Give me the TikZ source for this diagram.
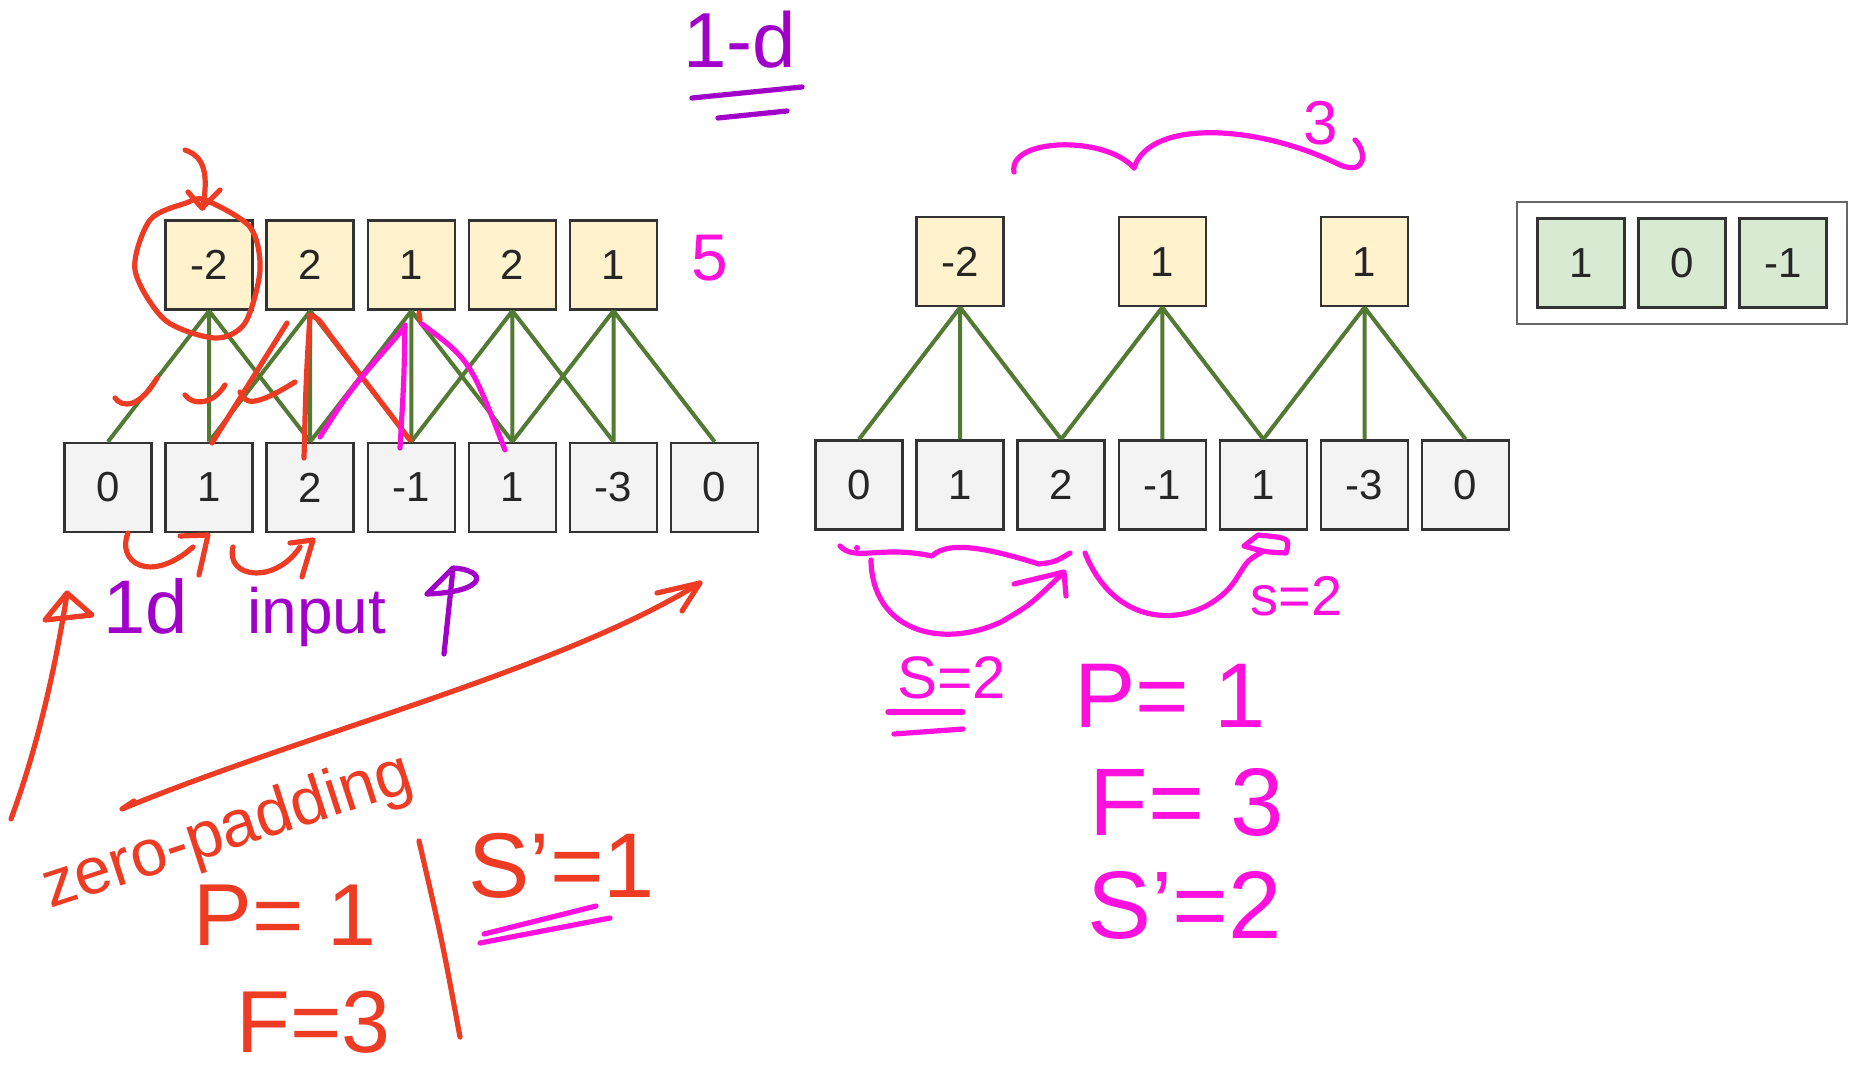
\documentclass[tikz,border=0pt]{standalone}
\usepackage{fontspec}
\setmainfont{Liberation Sans}
\usepackage{xcolor}
\usetikzlibrary{positioning,fit}

\definecolor{boxline}{HTML}{333333}
\definecolor{infill}{HTML}{F3F3F3}
\definecolor{outfill}{HTML}{FFF2CC}
\definecolor{kerfill}{HTML}{D9EAD3}
\definecolor{wire}{HTML}{527A33}
\definecolor{penred}{HTML}{EE3B24}
\definecolor{penpink}{HTML}{FF10DC}
\definecolor{penpurple}{HTML}{A000C8}

\begin{document}
\begin{tikzpicture}[x=0.5pt, y=-0.5pt,
  node distance=5.75pt,
  cell/.style={draw=boxline, line width=1.3pt, minimum width=43.5pt,
               minimum height=44.5pt, inner sep=0pt, text=black!85,
               font=\fontsize{21}{23}\selectfont},
  inbox/.style={cell, fill=infill},
  outbox/.style={cell, fill=outfill},
  kerbox/.style={cell, fill=kerfill},
  frame/.style={draw=black!60, line width=1.2pt, inner xsep=9.5pt, inner ysep=7.5pt},
  link/.style={draw=wire, line width=2pt},
  pen/.style={line width=2.6pt, line cap=round, line join=round},
  redpen/.style={pen, draw=penred},
  pinkpen/.style={pen, draw=penpink},
  purplepen/.style={pen, draw=penpurple},
  note/.style={inner sep=0pt, anchor=base west}
]
  \useasboundingbox (0,0) rectangle (1853,1070);

  % padded input, stride 1
  \node[inbox] (a0) at (108,487.5) {0};
  \node[inbox, right=of a0] (a1) {1};
  \node[inbox, right=of a1] (a2) {2};
  \node[inbox, right=of a2] (a3) {-1};
  \node[inbox, right=of a3] (a4) {1};
  \node[inbox, right=of a4] (a5) {-3};
  \node[inbox, right=of a5] (a6) {0};
  \node[outbox, above=65.4pt of a1] (b0) {-2};
  \node[outbox, right=of b0] (b1) {2};
  \node[outbox, right=of b1] (b2) {1};
  \node[outbox, right=of b2] (b3) {2};
  \node[outbox, right=of b3] (b4) {1};
  \draw[link] (b0.south) -- (a0.north) (b0.south) -- (a1.north) (b0.south) -- (a2.north);
  \draw[link] (b1.south) -- (a1.north) (b1.south) -- (a2.north) (b1.south) -- (a3.north);
  \draw[link] (b2.south) -- (a2.north) (b2.south) -- (a3.north) (b2.south) -- (a4.north);
  \draw[link] (b3.south) -- (a3.north) (b3.south) -- (a4.north) (b3.south) -- (a5.north);
  \draw[link] (b4.south) -- (a4.north) (b4.south) -- (a5.north) (b4.south) -- (a6.north);

  % padded input, stride 2
  \node[inbox] (c0) at (859,485) {0};
  \node[inbox, right=of c0] (c1) {1};
  \node[inbox, right=of c1] (c2) {2};
  \node[inbox, right=of c2] (c3) {-1};
  \node[inbox, right=of c3] (c4) {1};
  \node[inbox, right=of c4] (c5) {-3};
  \node[inbox, right=of c5] (c6) {0};
  \node[outbox, above=65.9pt of c1] (d0) {-2};
  \node[outbox, above=65.9pt of c3] (d1) {1};
  \node[outbox, above=65.9pt of c5] (d2) {1};
  \draw[link] (d0.south) -- (c0.north) (d0.south) -- (c1.north) (d0.south) -- (c2.north);
  \draw[link] (d1.south) -- (c2.north) (d1.south) -- (c3.north) (d1.south) -- (c4.north);
  \draw[link] (d2.south) -- (c4.north) (d2.south) -- (c5.north) (d2.south) -- (c6.north);

  % filter
  \node[kerbox] (k0) at (1581,263) {1};
  \node[kerbox, right=of k0] (k1) {0};
  \node[kerbox, right=of k1] (k2) {-1};
  \node[frame, fit=(k0)(k2)] (kernel) {};

  % pen notes, left
  \draw[redpen] plot[smooth cycle] coordinates {(205,200) (250,227) (260,270) (245,323)
    (215,338) (165,320) (135,270) (150,220) (186,203)};
  \draw[redpen] (185,150) .. controls (210,158) and (206,185) .. (203,208);
  \draw[redpen] (188,192) -- (202,208) -- (220,190);
  \draw[redpen] (115,398) .. controls (122,408) and (140,408) .. (157,378);
  \draw[redpen] (185,395) .. controls (192,405) and (212,406) .. (225,385);
  \draw[redpen] (240,392) .. controls (245,402) and (250,410) .. (295,382);
  \draw[redpen] (212,443) -- (287,323);
  \draw[redpen] (304,458) .. controls (306,380) .. (310,315) .. controls (318,318) .. (330,335) -- (410,440);
  \draw[redpen] (419,313) -- (420,320);
  \draw[pinkpen] (320,437) .. controls (350,390) .. (405,327);
  \draw[pinkpen] (400,448) .. controls (404,380) .. (405,325);
  \draw[pinkpen] (422,324) .. controls (470,360) .. (505,450);
  \node[note, text=penpink, font=\fontsize{33}{38}\selectfont] (nout) at (691,280) {5};

  \draw[redpen] (128,533) .. controls (116,562) and (150,585) .. (193,547);
  \draw[redpen] (180,536) -- (208,535) -- (199,575);
  \draw[redpen] (233,547) .. controls (225,578) and (275,585) .. (300,547);
  \draw[redpen] (290,543) -- (313,540) -- (302,577);
  \draw[redpen] (11,819) .. controls (36,751) and (54,676) .. (67,594);
  \draw[redpen] (45,620) -- (67,593) -- (92,615) -- cycle;
  \node[note, text=penpurple, font=\fontsize{38}{42}\selectfont] (oned) at (103,633) {1d};
  \node[note, text=penpurple, font=\fontsize{32}{36}\selectfont] (input) at (247,633) {input};
  \draw[purplepen] (444,654) -- (453,569);
  \draw[purplepen] (427,594) -- (453,568) .. controls (488,570) and (488,592) .. (427,594);
  \draw[redpen] (134,801) -- (122,809) .. controls (300,735) and (560,670) .. (700,583);
  \draw[redpen] (657,593) -- (700,583) -- (682,611);
  \node[text=penred, font=\fontsize{33}{36}\selectfont, rotate=18, inner sep=0pt] (zpad) at (228,833) {zero-padding};
  \node[note, text=penred, font=\fontsize{44}{48}\selectfont] (lp) at (193,945) {P= 1};
  \node[note, text=penred, font=\fontsize{44}{48}\selectfont] (lf) at (236,1052) {F=3};
  \draw[redpen] (419,841) .. controls (442,940) .. (460,1037);
  \node[note, text=penred, font=\fontsize{46}{50}\selectfont] (ls) at (468,897) {S'=1};
  \draw[pinkpen] (484,934) -- (596,906);
  \draw[pinkpen] (480,943) -- (610,918);

  % pen notes, right
  \node[note, text=penpurple, font=\fontsize{39}{44}\selectfont] (title) at (683,68) {1-d};
  \draw[purplepen] (692,98) -- (802,87);
  \draw[purplepen] (718,118) -- (787,111);
  \draw[pinkpen] (1014,172) .. controls (1008,138) and (1105,135) .. (1134,168);
  \draw[pinkpen] (1134,168) .. controls (1150,118) and (1260,125) .. (1340,165)
    .. controls (1368,176) and (1366,150) .. (1355,140);
  \node[note, text=penpink, font=\fontsize{31}{36}\selectfont] (nsel) at (1303,145) {3};

  \fill[penpink] (857,548) circle [radius=3];
  \draw[pinkpen] (840,546) .. controls (855,562) and (880,545) .. (932,556)
    .. controls (950,538) and (1000,552) .. (1039,564) .. controls (1055,562) .. (1070,553);
  \draw[pinkpen] (871,560) .. controls (872,630) and (940,650) .. (1001,622) .. controls (1030,605) .. (1062,574);
  \draw[pinkpen] (1014,584) -- (1064,572) -- (1066,596);
  \draw[pinkpen] (1085,553) .. controls (1120,640) and (1210,625) .. (1238,576) .. controls (1248,560) .. (1262,552);
  \draw[pinkpen] (1244,546) .. controls (1265,552) .. (1286,553) .. controls (1290,538) .. (1258,535) -- (1244,546);
  \node[note, text=penpink, font=\fontsize{28}{32}\selectfont] (rs) at (1250,615) {s=2};
  \node[note, text=penpink, font=\fontsize{30}{34}\selectfont] (rstride) at (897,698) {S=2};
  \draw[pinkpen] (888,712) -- (963,712);
  \draw[pinkpen] (894,734) -- (963,729);
  \node[note, text=penpink, font=\fontsize{46}{50}\selectfont] (rp) at (1074,727) {P= 1};
  \node[note, text=penpink, font=\fontsize{48}{52}\selectfont] (rf) at (1089,835) {F= 3};
  \node[note, text=penpink, font=\fontsize{48}{52}\selectfont] (rso) at (1087,938) {S'=2};
\end{tikzpicture}
\end{document}
